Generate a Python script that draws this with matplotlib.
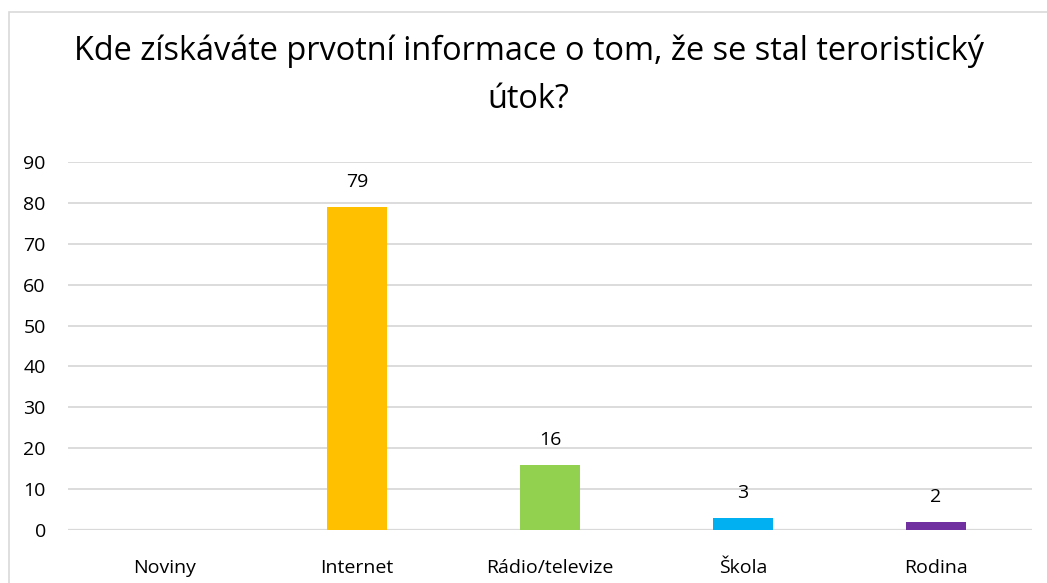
import matplotlib.pyplot as plt
from matplotlib.patches import Rectangle
import numpy as np

plt.rcParams['font.family'] = ['Open Sans', 'DejaVu Sans']

categories = ['Noviny', 'Internet', 'Rádio/televize', 'Škola', 'Rodina']
values = [0, 79, 16, 3, 2]
colors = ['#C00000', '#FFC000', '#92D050', '#00B0F0', '#7030A0']
y_ticks = [0, 10, 20, 30, 40, 50, 60, 70, 80, 90]
title = 'Kde získáváte prvotní informace o tom, že se stal teroristický\nútok?'

fig = plt.figure(figsize=(10.47, 5.83), dpi=100)
ax = fig.add_axes([0.065, 0.0909, 0.9207, 0.6312])

# outer chart border (right/bottom run off the picture)
fig.patches.append(Rectangle((9 / 1047, -0.1), 1.2, (583 - 12) / 583 + 0.1,
                             transform=fig.transFigure, fill=False,
                             edgecolor='#D9D9D9', lw=1.2))

x_pos = np.arange(len(categories))
bars = ax.bar(x_pos, values, width=0.31, color=colors, zorder=3)

for rect, v in zip(bars, values):
    if v == 0:
        continue
    ax.annotate(str(v), (rect.get_x() + rect.get_width() / 2, v),
                xytext=(0, 18), textcoords='offset points',
                ha='center', va='center', fontsize=14, color='#000000')

ax.set_xlim(-0.5, len(categories) - 0.5)
ax.set_ylim(0, 90)
ax.set_yticks(y_ticks)
ax.set_xticks(x_pos)
ax.set_xticklabels(categories)
ax.tick_params(axis='both', length=0, labelsize=14, colors='#000000')
ax.tick_params(axis='y', pad=16)
ax.tick_params(axis='x', pad=21)
for lbl in ax.get_yticklabels():
    lbl.set_horizontalalignment('right')

ax.grid(axis='y', color='#D9D9D9', lw=1.3, zorder=0)
ax.set_axisbelow(True)
for s in ax.spines.values():
    s.set_visible(False)
ax.axhline(0, color='#D9D9D9', lw=1.6, zorder=1)

fig.text(0.505, 0.871, title, ha='center', va='center', fontsize=23.4,
         linespacing=1.58)

plt.savefig('out.png', dpi=100)
